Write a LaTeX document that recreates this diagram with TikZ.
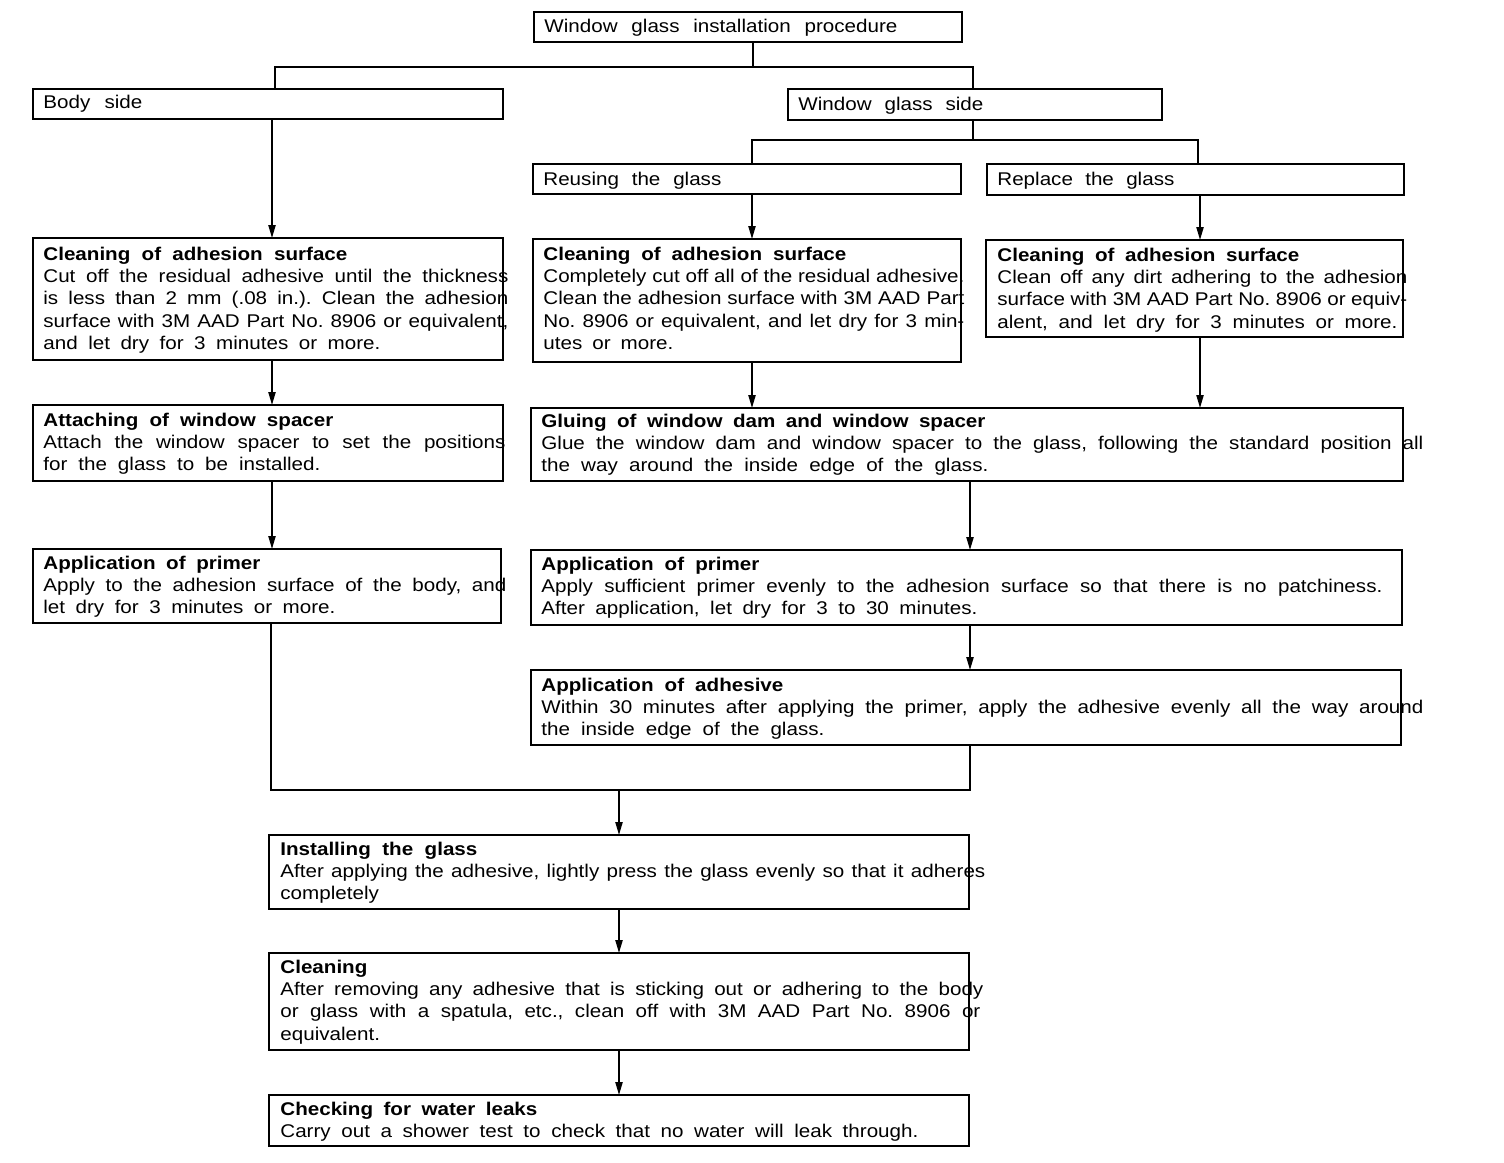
\documentclass[tikz,border=0pt]{standalone}
\usepackage{fontspec}
\setmainfont{Liberation Sans}[FakeStretch=1.12]
\usetikzlibrary{arrows.meta}
\newlength\pxu \setlength\pxu{0.5pt}
\newcommand\jline[2]{\makebox[#1\pxu][s]{#2}}
\newcommand\tb[1]{\parbox[t]{460pt}{#1}}
\frenchspacing
\begin{document}
\begin{tikzpicture}[x=0.5pt,y=-0.5pt,
 box/.style={draw, line width=0.9pt, anchor=north west, inner sep=0pt, outer sep=0pt},
 txt/.style={anchor=base west, inner sep=0pt, font=\frenchspacing\fontsize{9.2}{11.2}\selectfont},
 link/.style={line width=0.8pt},
 arr/.style={link, -{Triangle[length=6.5pt,width=3.6pt]}}]
\useasboundingbox (0,0) rectangle (1504,1162);
% boxes
\node[box, minimum width=214pt, minimum height=15pt] (t) at (534,12) {};
\node[box, minimum width=235pt, minimum height=15pt] (body) at (33,89) {};
\node[box, minimum width=187pt, minimum height=15.5pt] (wgs) at (788,89) {};
\node[box, minimum width=214pt, minimum height=15pt] (reuse) at (533,164) {};
\node[box, minimum width=208.5pt, minimum height=15.5pt] (repl) at (987,164) {};
\node[box, minimum width=235pt, minimum height=61pt] (c1) at (33,238) {};
\node[box, minimum width=214pt, minimum height=61.5pt] (c2) at (533,239) {};
\node[box, minimum width=208.5pt, minimum height=48.5pt] (c3) at (986,240) {};
\node[box, minimum width=235pt, minimum height=38pt] (att) at (33,405) {};
\node[box, minimum width=436pt, minimum height=36.5pt] (glue) at (531,408) {};
\node[box, minimum width=234pt, minimum height=37pt] (p1) at (33,549) {};
\node[box, minimum width=435.5pt, minimum height=37.5pt] (p2) at (531,550) {};
\node[box, minimum width=435pt, minimum height=37.5pt] (adh) at (531,670) {};
\node[box, minimum width=350pt, minimum height=37pt] (inst) at (269,835) {};
\node[box, minimum width=350pt, minimum height=48.5pt] (clean) at (269,953) {};
\node[box, minimum width=350pt, minimum height=25.5pt] (check) at (269,1095) {};
% texts
\node[txt] (tT) at (544,32) {\jline{353}{Window glass installation procedure}};
\node[txt] (bodyT) at (43,108) {\jline{99}{Body side}};
\node[txt] (wgsT) at (798,110) {\jline{185}{Window glass side}};
\node[txt] (reuseT) at (543,185) {\jline{178}{Reusing the glass}};
\node[txt] (replT) at (997,185) {\jline{177}{Replace the glass}};
\node[txt] (c1T) at (43,260) {\tb{\jline{304}{\bfseries Cleaning of adhesion surface}\\
 \jline{465}{Cut off the residual adhesive until the thickness}\\
 \jline{465}{is less than 2 mm (.08 in.). Clean the adhesion}\\
 \jline{465}{surface with 3M AAD Part No. 8906 or equivalent,}\\
 \jline{337}{and let dry for 3 minutes or more.}}};
\node[txt] (c2T) at (543,260) {\tb{\jline{303}{\bfseries Cleaning of adhesion surface}\\
 \jline{421}{Completely cut off all of the residual adhesive.}\\
 \jline{421}{Clean the adhesion surface with 3M AAD Part}\\
 \jline{421}{No. 8906 or equivalent, and let dry for 3 min-}\\
 \jline{130}{utes or more.}}};
\node[txt] (c3T) at (997,261) {\tb{\jline{302}{\bfseries Cleaning of adhesion surface}\\
 \jline{410}{Clean off any dirt adhering to the adhesion}\\
 \jline{410}{surface with 3M AAD Part No. 8906 or equiv-}\\
 \jline{400}{alent, and let dry for 3 minutes or more.}}};
\node[txt] (attT) at (43,426) {\tb{\jline{290}{\bfseries Attaching of window spacer}\\
 \jline{462}{Attach the window spacer to set the positions}\\
 \jline{277}{for the glass to be installed.}}};
\node[txt] (glueT) at (541,427) {\tb{\jline{444}{\bfseries Gluing of window dam and window spacer}\\
 \jline{882}{Glue the window dam and window spacer to the glass, following the standard position all}\\
 \jline{447}{the way around the inside edge of the glass.}}};
\node[txt] (p1T) at (43,569) {\tb{\jline{217}{\bfseries Application of primer}\\
 \jline{463}{Apply to the adhesion surface of the body, and}\\
 \jline{292}{let dry for 3 minutes or more.}}};
\node[txt] (p2T) at (541,570) {\tb{\jline{218}{\bfseries Application of primer}\\
 \jline{841}{Apply sufficient primer evenly to the adhesion surface so that there is no patchiness.}\\
 \jline{436}{After application, let dry for 3 to 30 minutes.}}};
\node[txt] (adhT) at (541,691) {\tb{\jline{242}{\bfseries Application of adhesive}\\
 \jline{882}{Within 30 minutes after applying the primer, apply the adhesive evenly all the way around}\\
 \jline{283}{the inside edge of the glass.}}};
\node[txt] (instT) at (280,855) {\tb{\jline{197}{\bfseries Installing the glass}\\
 \jline{705}{After applying the adhesive, lightly press the glass evenly so that it adheres}\\
 completely}};
\node[txt] (cleanT) at (280,973) {\tb{{\bfseries Cleaning}\\
 \jline{703}{After removing any adhesive that is sticking out or adhering to the body}\\
 \jline{700}{or glass with a spatula, etc., clean off with 3M AAD Part No. 8906 or}\\
 equivalent.}};
\node[txt] (checkT) at (280,1115) {\tb{\jline{257}{\bfseries Checking for water leaks}\\
 \jline{638}{Carry out a shower test to check that no water will leak through.}}};
% connectors
\coordinate (j0) at (753,67);
\coordinate (jL) at (275,67);
\coordinate (jR) at (973,67);
\draw[link] (t.south -| j0) -- (j0);
\draw[link] (body.north -| jL) -- (jL) -- (jR) -- (wgs.north -| jR);
\coordinate (jw) at (973,140);
\coordinate (jw1) at (752,140);
\coordinate (jw2) at (1198,140);
\draw[link] (wgs.south -| jw) -- (jw);
\draw[link] (reuse.north -| jw1) -- (jw1) -- (jw2) -- (repl.north -| jw2);
\coordinate (xL) at (272,0);
\coordinate (xM) at (752,0);
\coordinate (xR) at (1200,0);
\coordinate (xG) at (970,0);
\coordinate (xB) at (619,0);
\draw[arr] (body.south -| xL) -- (c1.north -| xL);
\draw[arr] (reuse.south -| xM) -- (c2.north -| xM);
\draw[arr] (repl.south -| xR) -- (c3.north -| xR);
\draw[arr] (c1.south -| xL) -- (att.north -| xL);
\draw[arr] (c2.south -| xM) -- (glue.north -| xM);
\draw[arr] (c3.south -| xR) -- (glue.north -| xR);
\draw[arr] (att.south -| xL) -- (p1.north -| xL);
\draw[arr] (glue.south -| xG) -- (p2.north -| xG);
\draw[arr] (p2.south -| xG) -- (adh.north -| xG);
\coordinate (m1) at (271,790);
\coordinate (m2) at (970,790);
\draw[link] (p1.south -| m1) -- (m1) -- (m2) -- (adh.south -| m2);
\draw[arr] (m1 -| xB) -- (inst.north -| xB);
\draw[arr] (inst.south -| xB) -- (clean.north -| xB);
\draw[arr] (clean.south -| xB) -- (check.north -| xB);
\end{tikzpicture}
\end{document}
